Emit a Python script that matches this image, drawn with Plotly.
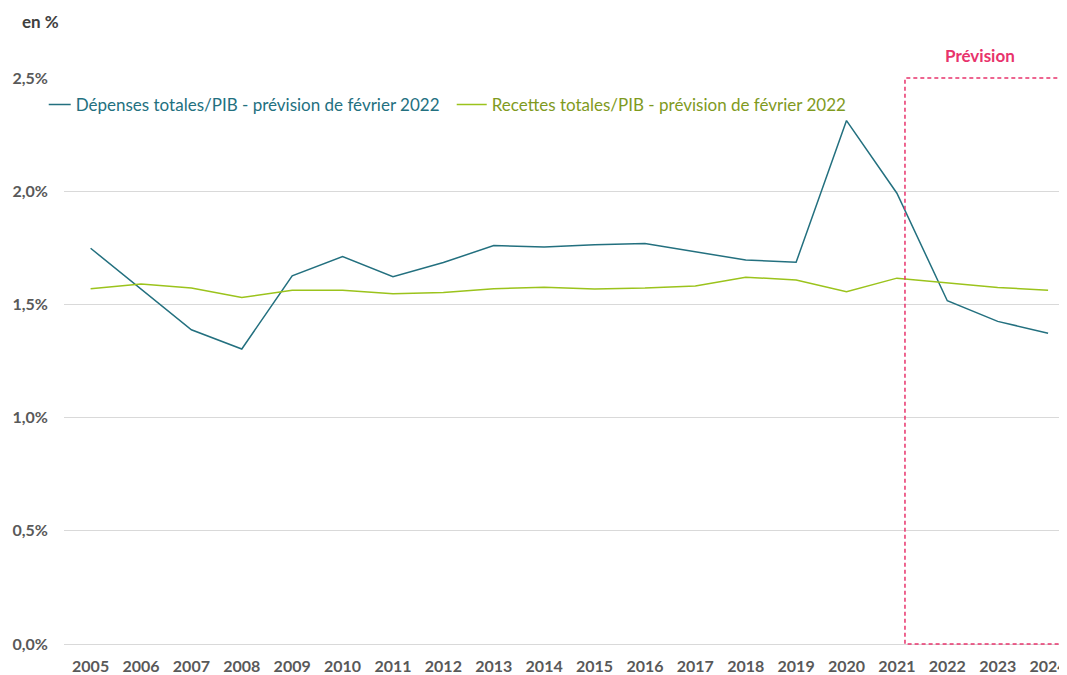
import plotly.graph_objects as go

years = list(range(2005, 2025))
depenses = [1.748, 1.569, 1.388, 1.303, 1.626, 1.711, 1.622, 1.685, 1.760, 1.753,
            1.764, 1.769, 1.731, 1.696, 1.686, 2.312, 1.991, 1.516, 1.425, 1.373]
recettes = [1.569, 1.590, 1.572, 1.530, 1.563, 1.563, 1.547, 1.553, 1.569, 1.576,
            1.568, 1.572, 1.581, 1.620, 1.608, 1.556, 1.616, 1.594, 1.575, 1.563]
ytick_vals = [0, 0.5, 1.0, 1.5, 2.0, 2.5]
ytick_text = ["0,0%", "0,5%", "1,0%", "1,5%", "2,0%", "2,5%"]
name_dep = "Dépenses totales/PIB - prévision de février 2022"
name_rec = "Recettes totales/PIB - prévision de février 2022"
forecast_start = 2021.16

col_dep = "#23707F"
col_rec = "#9BC31C"
col_rec_txt = "#7F9A1E"
col_prev = "#E8336C"
font_family = "Lato, 'Open Sans', sans-serif"

# page has an 8px body margin: compensate in figure size/margins
W, H = 1059, 667
L, T, B = 56, 70, 31
PH = H - T - B
PW = W - L

fig = go.Figure()
fig.add_trace(go.Scatter(x=years, y=depenses, mode="lines",
                         line=dict(color=col_dep, width=1.5),
                         name=f"<span style='color:{col_dep}'>{name_dep}</span>"))
fig.add_trace(go.Scatter(x=years, y=recettes, mode="lines",
                         line=dict(color=col_rec, width=1.5),
                         name=f"<span style='color:{col_rec_txt}'>{name_rec}</span>"))

fig.add_shape(type="path",
              path=f"M 2024.6,1 L {forecast_start},1 L {forecast_start},0 L 2024.6,0",
              xref="x", yref="paper", line=dict(color=col_prev, width=1.5, dash="4px,3px"),
              layer="above")

fig.update_layout(
    width=W, height=H,
    margin=dict(l=L, r=0, t=T, b=B, pad=0),
    paper_bgcolor="white", plot_bgcolor="white",
    font=dict(family=font_family, color="#595959"),
    showlegend=True,
    legend=dict(orientation="h", x=(884 - 64) / PW, xanchor="right", y=1 - 9 / PH, yanchor="top",
                font=dict(size=17, family=font_family), indentation=-13,
                entrywidth=384, entrywidthmode="pixels",
                bgcolor="rgba(0,0,0,0)", tracegroupgap=0),
    xaxis=dict(range=[2004.472, 2024.296], tickvals=years, ticktext=[str(y) for y in years],
               showgrid=False, zeroline=False, showline=False,
               ticks="outside", ticklen=8, tickcolor="rgba(0,0,0,0)",
               ticklabeloverflow="allow",
               tickfont=dict(size=16, color="#595959", family=font_family, weight="bold")),
    yaxis=dict(range=[0, 2.5], tickvals=ytick_vals, ticktext=ytick_text,
               showgrid=True, gridcolor="#D9D9D9", gridwidth=1,
               zeroline=True, zerolinecolor="#D9D9D9", zerolinewidth=1,
               showline=False, ticks="outside", ticklen=12, tickcolor="rgba(0,0,0,0)",
               tickfont=dict(size=16, color="#595959", family=font_family, weight="bold")),
)

fig.add_annotation(text="<b>Prévision</b>", x=2022.65, xref="x", y=1 + 22 / PH, yref="paper",
                   yanchor="middle", showarrow=False,
                   font=dict(color=col_prev, size=17, family=font_family))
fig.add_annotation(text="<b>en %</b>", x=-44 / PW, xref="paper", xanchor="left",
                   y=1 + 56 / PH, yref="paper", yanchor="middle", showarrow=False,
                   font=dict(size=17, color="#404040", family=font_family))

fig.write_html("out.html")
